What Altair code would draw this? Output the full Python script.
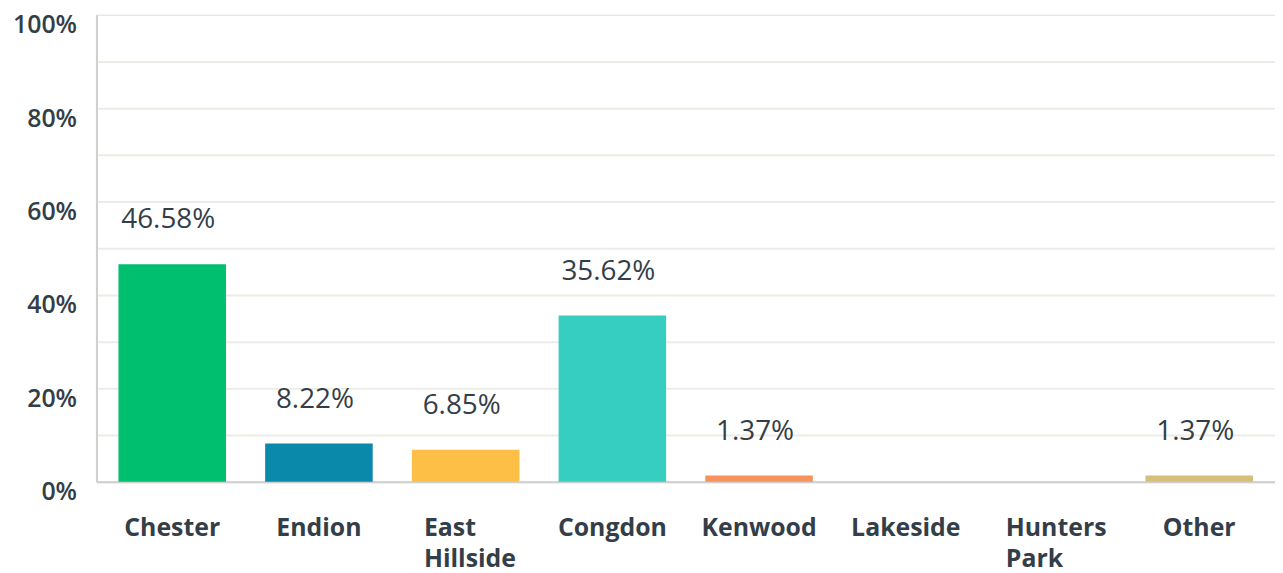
import altair as alt
import pandas as pd

categories = ["Chester", "Endion", "East Hillside", "Congdon", "Kenwood", "Lakeside", "Hunters Park", "Other"]
values = [0.4658, 0.0822, 0.0685, 0.3562, 0.0137, 0.0, 0.0, 0.0137]
colors = ["#00BF6F", "#0B89AB", "#FDBF45", "#36CEC0", "#F7925D", "#9DD6C6", "#6C7CC0", "#D8BE7B"]
y_ticks = [0, 0.1, 0.2, 0.3, 0.4, 0.5, 0.6, 0.7, 0.8, 0.9, 1.0]

df = pd.DataFrame({"cat": categories, "val": values})

FONT = "Open Sans"
TXT = "#333E48"

x_enc = alt.X(
    "cat:N",
    sort=categories,
    title=None,
    scale=alt.Scale(paddingInner=0.267, paddingOuter=0.15),
    axis=alt.Axis(
        labelAngle=0,
        labelExpr="split(datum.label, ' ')",
        labelFont=FONT,
        labelFontSize=25,
        labelFontWeight="bold",
        labelColor=TXT,
        labelPadding=34,
        labelLineHeight=31,
        labelBaseline="top",
        labelAlign={
            "condition": {"test": "datum.value == 'East Hillside' || datum.value == 'Hunters Park'", "value": "left"},
            "value": "center",
        },
        labelOffset={
            "condition": [
                {"test": "datum.value == 'East Hillside'", "value": -42},
                {"test": "datum.value == 'Hunters Park'", "value": -47},
            ],
            "value": 0,
        },
        ticks=False,
        domainColor="#CFCFCF",
        domainWidth=2,
        grid=False,
    ),
)

y_enc = alt.Y(
    "val:Q",
    title=None,
    scale=alt.Scale(domain=[0, 1], nice=False),
    axis=alt.Axis(
        values=y_ticks,
        labelExpr="round(datum.value*100) % 20 == 0 ? format(datum.value, '.0%') : ''",
        labelFont=FONT,
        labelFontSize=25,
        labelFontWeight=600,
        labelColor=TXT,
        labelPadding=20,
        labelOffset=10,
        labelBaseline="middle",
        ticks=False,
        domainColor="#CFCFCF",
        domainWidth=2,
        grid=True,
        gridColor={
            "condition": {"test": "datum.value >= 1", "value": "transparent"},
            "value": "#ECECE6",
        },
        gridWidth=2,
    ),
)

bars = alt.Chart(df).mark_bar().encode(
    x=x_enc,
    y=y_enc,
    color=alt.Color("cat:N", sort=categories, scale=alt.Scale(domain=categories, range=colors), legend=None),
)

labels = alt.Chart(df).transform_filter("datum.val > 0").mark_text(
    font=FONT, fontSize=28, color=TXT, baseline="alphabetic", dy=-36, dx=-4
).encode(
    x=alt.X("cat:N", sort=categories),
    y=alt.Y("val:Q"),
    text=alt.Text("val:Q", format=".2%"),
)

chart = (
    alt.layer(bars, labels)
    .properties(
        width=1186,
        height=470,
        autosize=alt.AutoSizeParams(type="none"),
        padding={"left": 89, "top": 5, "right": 0, "bottom": 90},
    )
    .configure_view(stroke=None)
    .configure(background="white")
)

chart.save("out.html", embed_options={"renderer": "svg", "actions": False})
